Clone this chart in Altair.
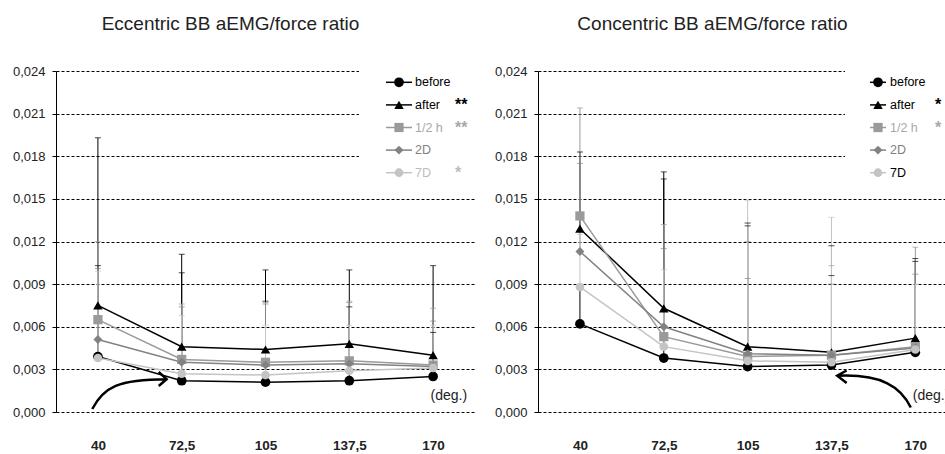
import altair as alt
import pandas as pd

FONT = "Liberation Sans, Arial, sans-serif"

angles = [40, 72.5, 105, 137.5, 170]
series = ["before", "after", "1/2 h", "2D", "7D"]
line_colors = ["#000000", "#000000", "#9a9a9a", "#828282", "#c4c4c4"]
shapes = ["circle", "triangle-up", "square", "diamond", "circle"]
sizes = [95, 75, 70, 45, 95]
y_ticks = [0, 0.003, 0.006, 0.009, 0.012, 0.015, 0.018, 0.021, 0.024]

# Eccentric panel
ecc_before = [0.0039, 0.0022, 0.0021, 0.0022, 0.0025]
ecc_after = [0.0075, 0.0046, 0.0044, 0.0048, 0.0040]
ecc_half = [0.0065, 0.0037, 0.0035, 0.0036, 0.0033]
ecc_2d = [0.0051, 0.0035, 0.0033, 0.0034, 0.0032]
ecc_7d = [0.0038, 0.0027, 0.0026, 0.0029, 0.0031]
ecc_before_sd = [0.0064, 0.0076, 0.0057, 0.0052, 0.0031]
ecc_after_sd = [0.0118, 0.0065, 0.0056, 0.0052, 0.0063]
ecc_half_sd = [0.0055, 0.0039, 0.0042, 0.0042, 0.0040]
ecc_2d_sd = [0.0050, 0.0039, 0.0043, 0.0043, 0.0032]
ecc_7d_sd = [0.0061, 0.0041, 0.0035, 0.0032, 0.0030]

# Concentric panel
con_before = [0.0062, 0.0038, 0.0032, 0.0033, 0.0042]
con_after = [0.0129, 0.0073, 0.0046, 0.0042, 0.0052]
con_half = [0.0138, 0.0053, 0.0039, 0.0040, 0.0046]
con_2d = [0.0113, 0.0060, 0.0041, 0.0040, 0.0045]
con_7d = [0.0088, 0.0046, 0.0036, 0.0035, 0.0044]
con_before_sd = [0.0026, 0.0126, 0.0099, 0.0063, 0.0064]
con_after_sd = [0.0054, 0.0096, 0.0087, 0.0075, 0.0056]
con_half_sd = [0.0076, 0.0079, 0.0081, 0.0063, 0.0070]
con_2d_sd = [0.0062, 0.0055, 0.0053, 0.0050, 0.0052]
con_7d_sd = [0.0037, 0.0054, 0.0113, 0.0102, 0.0046]

ecc_label_colors = ["#000000", "#000000", "#a8a8a8", "#808080", "#bdbdbd"]
ecc_stars = ["", "**", "**", "", "*"]
con_label_colors = ["#000000", "#000000", "#a8a8a8", "#808080", "#000000"]
con_stars = ["", "*", "*", "", ""]

LEFT_ARROW = ("M -1 0.53 C -0.7 -0.05 -0.3 -0.26 0.97 -0.26 "
              "M 0.76 -0.45 L 0.97 -0.26 L 0.76 -0.08")
RIGHT_ARROW = ("M -0.97 -0.35 C 0.2 -0.4 0.7 -0.05 0.96 0.49 "
               "M -0.74 -0.49 L -0.99 -0.35 L -0.74 -0.16")


def panel(title, means, sds, lab_colors, stars, xdom, width, lg, title_dx,
          arrow_shape, arrow_x):
    rows = []
    for s, m_list, sd_list in zip(series, means, sds):
        for a, m, sd in zip(angles, m_list, sd_list):
            rows.append({"series": s, "angle": a, "mean": m, "top": m + sd})
    df = pd.DataFrame(rows)

    x = alt.X("angle:Q", scale=alt.Scale(domain=xdom, nice=False, zero=False),
              axis=alt.Axis(values=angles,
                            labelExpr="replace(format(datum.value, '~g'), '.', ',')",
                            grid=False, domain=False, ticks=False,
                            labelFontWeight="bold", labelFontSize=13.5,
                            labelPadding=26, title=None, labelColor="#222",
                            labelFont=FONT))
    y = alt.Y("mean:Q", scale=alt.Scale(domain=[0, 0.024], nice=False),
              axis=alt.Axis(values=y_ticks,
                            labelExpr="replace(format(datum.value, '.3f'), '.', ',')",
                            grid=True, gridColor="black", gridDash=[3, 2],
                            gridWidth=1, domainColor="black", tickColor="black",
                            tickSize=4, labelPadding=7, title=None,
                            labelFontSize=13, labelFont=FONT, labelColor="#222"))
    color = alt.Color("series:N", scale=alt.Scale(domain=series, range=line_colors),
                      legend=None)
    shape = alt.Shape("series:N", scale=alt.Scale(domain=series, range=shapes),
                      legend=None)
    size = alt.Size("series:O", scale=alt.Scale(domain=series, range=sizes),
                    legend=None)

    base = alt.Chart(df)
    err = base.mark_rule(strokeWidth=1).encode(x=x, y=y, y2="top:Q", color=color)
    cap = base.mark_tick(orient="horizontal", size=6, thickness=1).encode(
        x="angle:Q", y="top:Q", color=color)
    line = base.mark_line(strokeWidth=1.5).encode(x="angle:Q", y="mean:Q", color=color)
    pts = base.mark_point(filled=True, opacity=1).encode(
        x="angle:Q", y="mean:Q", color=color, shape=shape, size=size)
    one = pd.DataFrame({"k": [0]})
    deg = alt.Chart(one).mark_text(align="left", baseline="middle", fontSize=14,
                                   font=FONT, color="#222", clip=True).encode(
        x=alt.datum(169), y=alt.datum(0.00113), text=alt.value("(deg.)"))
    arrow = alt.Chart(one).mark_point(shape=arrow_shape, size=5700, filled=False,
                                      strokeWidth=2.5, color="black", opacity=1).encode(
        x=alt.datum(arrow_x), y=alt.datum(0.00162))
    data_layers = alt.layer(err, cap, line, pts, deg, arrow)

    bg = alt.Chart(one).mark_rect(color="white").encode(
        x=alt.value(lg["bg"]), x2=alt.value(width),
        y=alt.value(-12), y2=alt.value(124))

    leg_df = pd.DataFrame({"series": series, "lc": lab_colors, "star": stars,
                           "sc": lab_colors})
    ly = alt.Y("series:N", scale=alt.Scale(domain=series, range=[0, 113], padding=0),
               axis=None)
    lbase = alt.Chart(leg_df)
    l_line = lbase.mark_rule(strokeWidth=1.5).encode(
        x=alt.value(lg["l0"]), x2=alt.value(lg["l1"]), y=ly, color=color)
    l_pt = lbase.mark_point(filled=True, opacity=1).encode(
        x=alt.value(lg["m"]), y=ly, color=color, shape=shape, size=size)
    l_txt = lbase.mark_text(align="left", baseline="middle", fontSize=12.5,
                            font=FONT).encode(
        x=alt.value(lg["t"]), y=ly, text="series:N", fill=alt.Fill("lc:N", scale=None))
    l_star = lbase.mark_text(align="left", baseline="middle", fontSize=16,
                             fontWeight="bold", font=FONT).encode(
        x=alt.value(lg["s"]), y=ly, text="star:N", fill=alt.Fill("sc:N", scale=None))
    legend_layers = alt.layer(l_line, l_pt, l_txt, l_star)

    return alt.layer(bg, data_layers, legend_layers).resolve_scale(
        y="independent").properties(
        width=width, height=341,
        title=alt.TitleParams(title, fontSize=19, font=FONT, fontWeight="normal",
                              anchor="middle", dx=title_dx, offset=25, color="#222"))


left = panel("Eccentric BB aEMG/force ratio",
             [ecc_before, ecc_after, ecc_half, ecc_2d, ecc_7d],
             [ecc_before_sd, ecc_after_sd, ecc_half_sd, ecc_2d_sd, ecc_7d_sd],
             ecc_label_colors, ecc_stars, [23.75, 186.25], 419,
             {"bg": 303, "l0": 330, "l1": 356, "m": 343, "t": 359, "s": 399},
             -35, LEFT_ARROW, 52.45)
right = panel("Concentric BB aEMG/force ratio",
              [con_before, con_after, con_half, con_2d, con_7d],
              [con_before_sd, con_after_sd, con_half_sd, con_2d_sd, con_7d_sd],
              con_label_colors, con_stars, [23.75, 181.5], 407,
              {"bg": 307, "l0": 332, "l1": 348, "m": 340, "t": 352, "s": 397},
              -29, RIGHT_ARROW, 154.2)

chart = alt.hconcat(left, right, spacing=19).properties(
    padding={"left": 12, "top": 15, "right": 0, "bottom": 0},
    background="white").configure_view(stroke=None)

chart.save("out.html", embed_options={"renderer": "svg", "actions": False})
